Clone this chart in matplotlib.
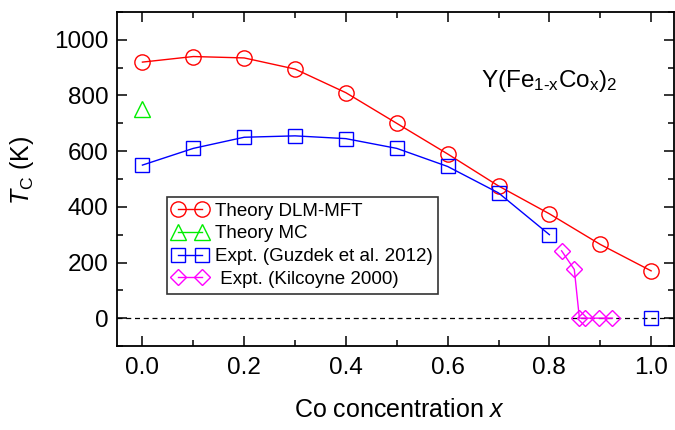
import matplotlib
matplotlib.use("Agg")
import matplotlib.pyplot as plt
from matplotlib.ticker import MultipleLocator

plt.rcParams['font.family'] = ['Liberation Sans', 'DejaVu Sans']
plt.rcParams['mathtext.fontset'] = 'custom'
plt.rcParams['mathtext.it'] = 'Liberation Sans:italic'
plt.rcParams['mathtext.rm'] = 'Liberation Sans'

# DLM-MFT theory
dlm_x = [0.0, 0.1, 0.2, 0.3, 0.4, 0.5, 0.6, 0.7, 0.8, 0.9, 1.0]
dlm_y = [920, 940, 935, 895, 810, 700, 590, 475, 375, 265, 170]
# MC theory
mc_x = [0.0]
mc_y = [750]
# Guzdek et al. 2012
guz_x = [0.0, 0.1, 0.2, 0.3, 0.4, 0.5, 0.6, 0.7, 0.8, 1.0]
guz_y = [550, 610, 650, 655, 645, 610, 545, 450, 300, 0]
# Kilcoyne 2000
kil_x = [0.824, 0.849, 0.859, 0.870, 0.898, 0.924]
kil_y = [242, 175, 0, 0, 0, 0]

W, H = 675, 430
fig = plt.figure(figsize=(6.75, 4.3), dpi=100)
ax = fig.add_axes([117/W, 1-346/H, (674-117)/W, (346-12)/H])

ax.axhline(0, color='black', lw=0.9, ls=(0, (4, 3)), zorder=1)

ax.plot(dlm_x, dlm_y, color='#ff0000', lw=1.0, marker='o', ms=11, mfc='none',
        mec='#ff0000', mew=1.0, label='Theory DLM-MFT', zorder=3)
ax.plot(mc_x, mc_y, color='#00ee00', lw=1.0, marker='^', ms=11, mfc='none',
        mec='#00ee00', mew=1.0, label='Theory MC', zorder=3)
ax.plot(guz_x[:-1], guz_y[:-1], color='#0000ff', lw=1.0, marker='s', ms=10, mfc='none',
        mec='#0000ff', mew=1.0, label='Expt. (Guzdek et al. 2012)', zorder=3)
ax.plot(guz_x[-1:], guz_y[-1:], color='#0000ff', lw=0, marker='s', ms=10, mfc='none',
        mec='#0000ff', mew=1.0, zorder=3)
ax.plot(kil_x, kil_y, color='#ff00ff', lw=1.0, marker='D', ms=7.8, mfc='none',
        mec='#ff00ff', mew=1.0, label=' Expt. (Kilcoyne 2000)', zorder=3)

ax.set_xlim(-0.05, 1.045)
ax.set_ylim(-100, 1100)
ax.set_xticks([0.0, 0.2, 0.4, 0.6, 0.8, 1.0])
ax.set_xticklabels(['0.0', '0.2', '0.4', '0.6', '0.8', '1.0'])
ax.xaxis.set_minor_locator(MultipleLocator(0.1))
ax.yaxis.set_major_locator(MultipleLocator(200))
ax.yaxis.set_minor_locator(MultipleLocator(100))
ax.tick_params(which='both', direction='in', top=True, right=True, labelsize=17.5, width=1.1)
ax.tick_params(which='major', length=7)
ax.tick_params(which='minor', length=4)
ax.tick_params(axis='x', which='major', pad=8)
ax.tick_params(axis='y', which='major', pad=6)
for s in ax.spines.values():
    s.set_linewidth(1.3)

ax.set_xlabel('Co concentration $\\mathit{x}$', fontsize=18)
ax.xaxis.set_label_coords((400-117)/557, -(398-346)/334)
ax.set_ylabel('$\\mathit{T}_{\\rm C}$ (K)', fontsize=18)
ax.yaxis.set_label_coords(-(117-36)/557, (346-170)/334)

ax.text(0.80, 831, 'Y(Fe$_{\\rm 1\\text{-}x}$Co$_{\\rm x}$)$_{\\rm 2}$', fontsize=17.5,
        ha='center', va='baseline')

leg = ax.legend(loc='upper left', bbox_to_anchor=((167-117)/557, (346-197)/334),
                numpoints=2, handlelength=1.85, handletextpad=0.4, fontsize=13.5,
                frameon=True, fancybox=False, edgecolor='black', borderpad=0.3,
                labelspacing=0.3, borderaxespad=0)
leg.get_frame().set_linewidth(1.2)

fig.savefig('out.png', dpi=100)
